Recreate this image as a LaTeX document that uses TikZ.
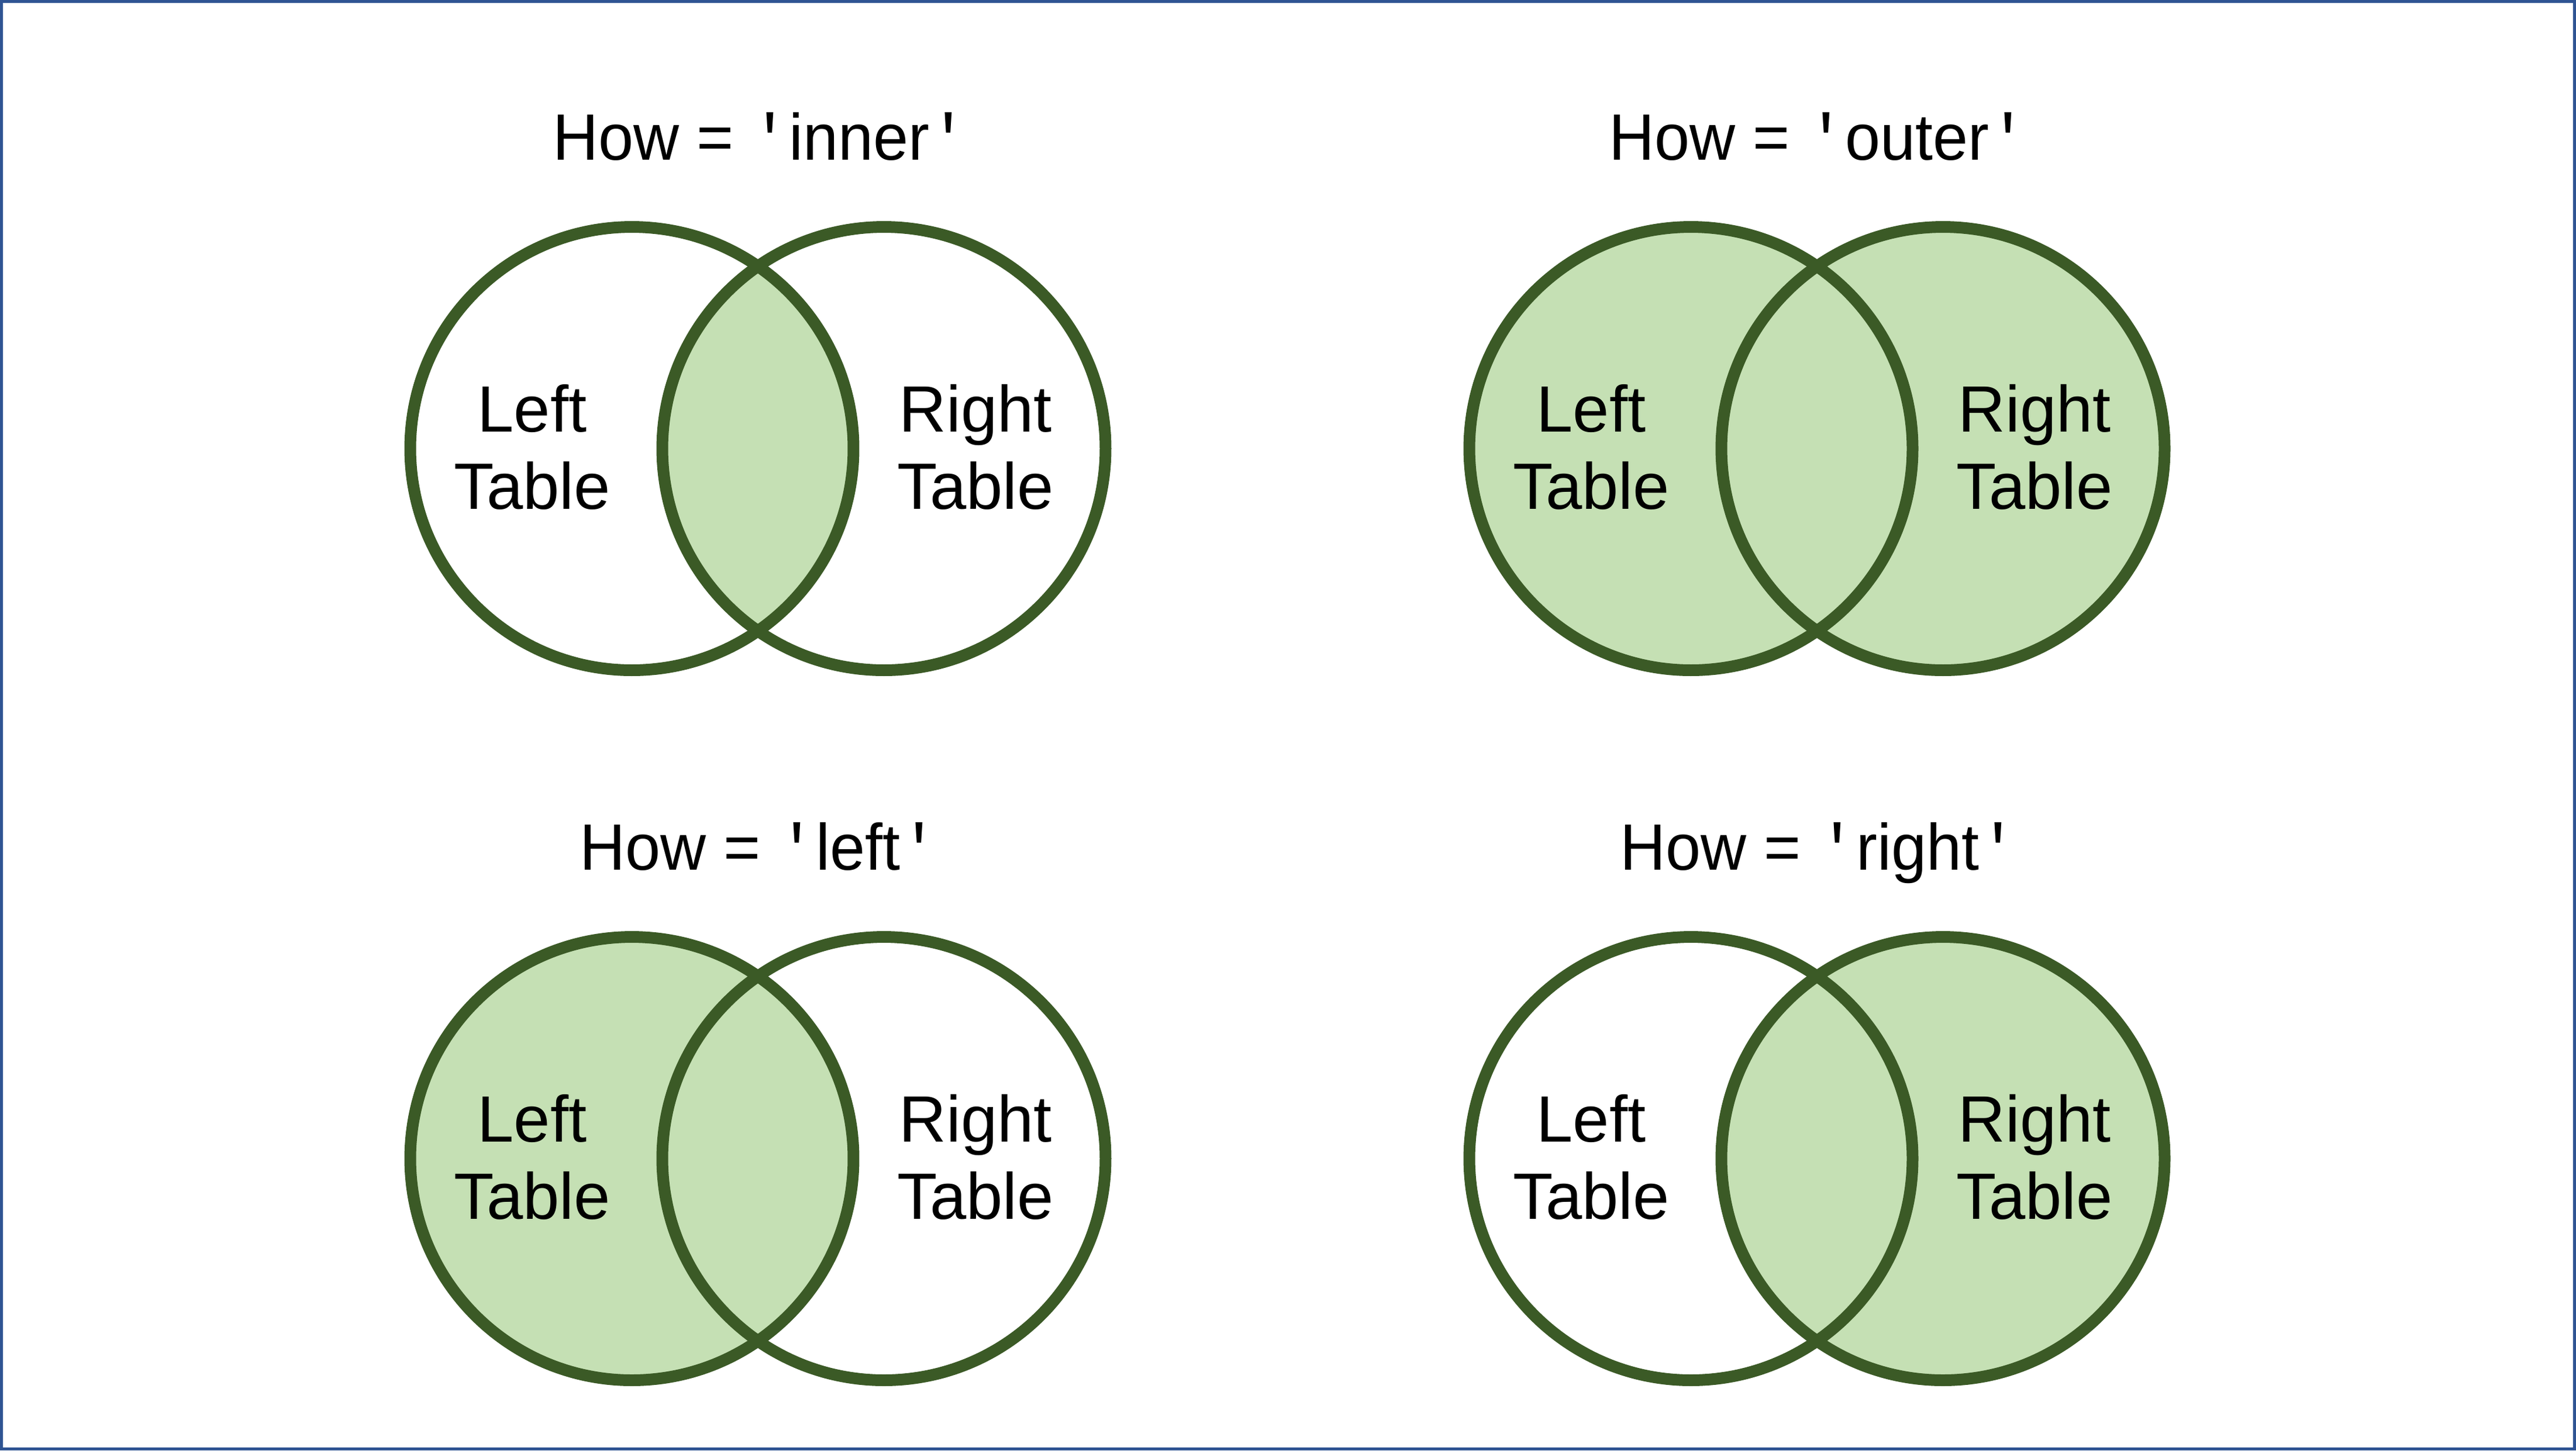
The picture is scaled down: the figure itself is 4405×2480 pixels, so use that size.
\documentclass[tikz,border=0pt]{standalone}
\usepackage{fontspec}
\setmainfont{Liberation Sans}
\setmonofont{Liberation Mono}
\definecolor{ringc}{HTML}{3B5A26}
\definecolor{fillc}{HTML}{C5E0B4}
\definecolor{framec}{HTML}{2F5493}
\newcommand{\qt}{{\ttfamily'}}
\tikzset{
  ring/.style={draw=ringc, line width=2pt},
  area/.style={fill=fillc},
  frameline/.style={draw=framec, line width=0.5pt},
  txt/.style={anchor=base, inner sep=0pt, text=black, font=\fontsize{11.2pt}{13.2pt}\selectfont},
  ttl/.style={txt, transform shape, xscale=0.965},
}
\begin{document}
\begin{tikzpicture}[x=0.1pt, y=-0.1pt]
\useasboundingbox (0,0) rectangle (4405,2480);
\path[fill=white] (0,0) rectangle (4405,2480);
\draw[frameline] (2.5,2.5) rectangle (4402.5,2477.5);

% ---------- inner ----------
\begin{scope}[shift={(1296,767)}]
  \coordinate (iL) at (-215.5,0);
  \coordinate (iR) at (215.5,0);
  \begin{scope}
    \clip (iL) circle[radius=37.9pt];
    \fill[area] (iR) circle[radius=37.9pt];
  \end{scope}
  \draw[ring] (iL) circle[radius=37.9pt];
  \draw[ring] (iR) circle[radius=37.9pt];
  \node[ttl] (iT) at (4,-494) {How = \qt inner\qt};
  \node[txt] (iLa) at (-386,-29) {Left};
  \node[txt] (iLb) at (-386,103) {Table};
  \node[txt] (iRa) at (372,-29) {Right};
  \node[txt] (iRb) at (372,103) {Table};
\end{scope}

% ---------- outer ----------
\begin{scope}[shift={(3107,767)}]
  \coordinate (oL) at (-215.5,0);
  \coordinate (oR) at (215.5,0);
  \fill[area] (oL) circle[radius=37.9pt];
  \fill[area] (oR) circle[radius=37.9pt];
  \draw[ring] (oL) circle[radius=37.9pt];
  \draw[ring] (oR) circle[radius=37.9pt];
  \node[ttl] (oT) at (2,-494) {How = \qt outer\qt};
  \node[txt] (oLa) at (-386,-29) {Left};
  \node[txt] (oLb) at (-386,103) {Table};
  \node[txt] (oRa) at (372,-29) {Right};
  \node[txt] (oRb) at (372,103) {Table};
\end{scope}

% ---------- left ----------
\begin{scope}[shift={(1296,1981)}]
  \coordinate (lL) at (-215.5,0);
  \coordinate (lR) at (215.5,0);
  \fill[area] (lL) circle[radius=37.9pt];
  \draw[ring] (lL) circle[radius=37.9pt];
  \draw[ring] (lR) circle[radius=37.9pt];
  \node[ttl] (lT) at (2,-494) {How = \qt left\qt};
  \node[txt] (lLa) at (-386,-29) {Left};
  \node[txt] (lLb) at (-386,103) {Table};
  \node[txt] (lRa) at (372,-29) {Right};
  \node[txt] (lRb) at (372,103) {Table};
\end{scope}

% ---------- right ----------
\begin{scope}[shift={(3107,1981)}]
  \coordinate (rL) at (-215.5,0);
  \coordinate (rR) at (215.5,0);
  \fill[area] (rR) circle[radius=37.9pt];
  \draw[ring] (rL) circle[radius=37.9pt];
  \draw[ring] (rR) circle[radius=37.9pt];
  \node[ttl] (rT) at (3,-494) {How = \qt right\qt};
  \node[txt] (rLa) at (-386,-29) {Left};
  \node[txt] (rLb) at (-386,103) {Table};
  \node[txt] (rRa) at (372,-29) {Right};
  \node[txt] (rRb) at (372,103) {Table};
\end{scope}
\end{tikzpicture}
\end{document}
